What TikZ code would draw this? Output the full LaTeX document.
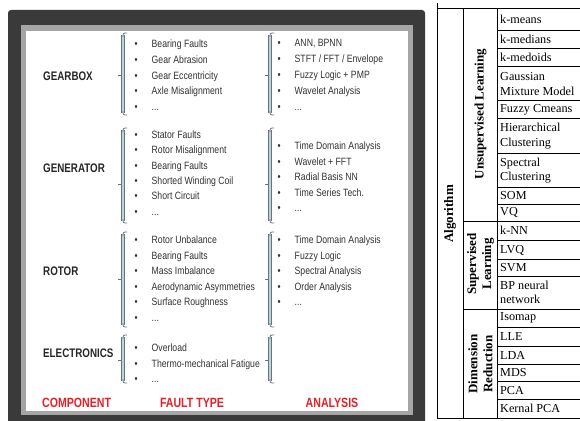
\documentclass[tikz,border=0pt]{standalone}
\usepackage{fontspec}
\setmainfont{Liberation Serif}
\newfontfamily\narrowsans[FakeStretch=0.82]{Liberation Sans}
\newfontfamily\narrowbold[FakeStretch=0.79]{Liberation Sans Bold}
\definecolor{framedark}{RGB}{58,58,58}
\definecolor{framegray}{RGB}{165,165,165}
\definecolor{brfill}{RGB}{182,214,218}
\definecolor{brline}{RGB}{105,115,120}
\definecolor{itemgray}{RGB}{50,50,50}
\definecolor{hdrred}{RGB}{232,30,40}
\newcommand\drawbrk[4]{%
  \draw[brline, line width=0.7pt] (#1-5,#4) -- (#1,#4);
  \draw[brline, line width=3.4pt] (#1,#2+2) -- (#1,#3-2);
  \draw[brfill, line width=2pt] (#1,#2+2) -- (#1,#3-2);
  \draw[brline, line width=0.8pt, rounded corners=2pt] (#1+4,#2) -- (#1,#2) -- (#1,#2+4);
  \draw[brline, line width=0.8pt, rounded corners=2pt] (#1+4,#3) -- (#1,#3) -- (#1,#3-4);
}
\tikzset{
  comp/.style={anchor=west, inner sep=0pt, text=black!85,
    font=\narrowbold\fontsize{12.4}{14}\selectfont},
  hdr/.style={inner sep=0pt, text=hdrred,
    font=\narrowbold\fontsize{13.4}{15}\selectfont},
  itm/.style={anchor=west, inner sep=0pt, text=itemgray, text height=7.6pt, text depth=0pt,
    font=\narrowsans\fontsize{10.6}{12}\selectfont},
  tcell/.style={anchor=west, inner sep=0pt, align=left,
    font=\fontsize{12.2}{14.5}\selectfont},
  tlab/.style={rotate=90, inner sep=0pt, align=center,
    font=\bfseries\fontsize{13}{15}\selectfont},
  tline/.style={line width=0.8pt, black}
}
\newcommand\bl[1]{\makebox[17pt][l]{\textbullet}#1}
\begin{document}
\begin{tikzpicture}[x=1pt,y=-1pt]
\useasboundingbox (0,0) rectangle (580,420);
% ---- left panel frame
\fill[framedark, rounded corners=3pt] (8,10) rectangle (425,424);
\fill[framegray] (21,25) rectangle (413,415);
\fill[white] (26,31) rectangle (408,411);
% ---- component labels
\node[comp] (gear) at (43,76) {GEARBOX};
\node[comp] (gen) at (43,168) {GENERATOR};
\node[comp] (rot) at (43,271) {ROTOR};
\node[comp] (elec) at (43,353) {ELECTRONICS};
% ---- headers
\node[hdr, anchor=west] (hc) at (42,403) {COMPONENT};
\node[hdr] (hf) at (192,403) {FAULT TYPE};
\node[hdr] (ha) at (332,403) {ANALYSIS};
% ---- brackets
\drawbrk{123}{33}{115}{75}
\drawbrk{270}{33}{115}{75}
\drawbrk{123}{128}{223}{184}
\drawbrk{270}{128}{223}{184}
\drawbrk{123}{232}{327}{279}
\drawbrk{270}{232}{327}{279}
\drawbrk{123}{335}{383}{360}
\drawbrk{270}{335}{383}{360}
% ---- gearbox
\node[itm] (g1) at (134.5,44) {\bl{Bearing Faults}};
\node[itm] (g2) at (134.5,60) {\bl{Gear Abrasion}};
\node[itm] (g3) at (134.5,76) {\bl{Gear Eccentricity}};
\node[itm] (g4) at (134.5,91) {\bl{Axle Misalignment}};
\node[itm] (g5) at (134.5,107) {\bl{...}};
\node[itm] (ga1) at (277.5,43) {\bl{ANN, BPNN}};
\node[itm] (ga2) at (277.5,59) {\bl{STFT / FFT / Envelope}};
\node[itm] (ga3) at (277.5,75) {\bl{Fuzzy Logic + PMP}};
\node[itm] (ga4) at (277.5,91) {\bl{Wavelet Analysis}};
\node[itm] (ga5) at (277.5,107) {\bl{...}};
% ---- generator
\node[itm] (n1) at (134.5,135) {\bl{Stator Faults}};
\node[itm] (n2) at (134.5,150) {\bl{Rotor Misalignment}};
\node[itm] (n3) at (134.5,165.5) {\bl{Bearing Faults}};
\node[itm] (n4) at (134.5,181) {\bl{Shorted Winding Coil}};
\node[itm] (n5) at (134.5,196) {\bl{Short Circuit}};
\node[itm] (n6) at (134.5,211.5) {\bl{...}};
\node[itm] (na1) at (277.5,146) {\bl{Time Domain Analysis}};
\node[itm] (na2) at (277.5,161.5) {\bl{Wavelet + FFT}};
\node[itm] (na3) at (277.5,177) {\bl{Radial Basis NN}};
\node[itm] (na4) at (277.5,192.5) {\bl{Time Series Tech.}};
\node[itm] (na5) at (277.5,208) {\bl{...}};
% ---- rotor
\node[itm] (r1) at (134.5,240) {\bl{Rotor Unbalance}};
\node[itm] (r2) at (134.5,255.5) {\bl{Bearing Faults}};
\node[itm] (r3) at (134.5,271) {\bl{Mass Imbalance}};
\node[itm] (r4) at (134.5,286.5) {\bl{Aerodynamic Asymmetries}};
\node[itm] (r5) at (134.5,302) {\bl{Surface Roughness}};
\node[itm] (r6) at (134.5,317.5) {\bl{...}};
\node[itm] (ra1) at (277.5,240) {\bl{Time Domain Analysis}};
\node[itm] (ra2) at (277.5,255.5) {\bl{Fuzzy Logic}};
\node[itm] (ra3) at (277.5,271) {\bl{Spectral Analysis}};
\node[itm] (ra4) at (277.5,286.5) {\bl{Order Analysis}};
\node[itm] (ra5) at (277.5,302) {\bl{...}};
% ---- electronics
\node[itm] (e1) at (134.5,348) {\bl{Overload}};
\node[itm] (e2) at (134.5,363.5) {\bl{Thermo-mechanical Fatigue}};
\node[itm] (e3) at (134.5,379) {\bl{...}};
% ---- table
\draw[tline] (437,3) -- (437,418);
\draw[tline] (463,8) -- (463,418);
\draw[tline] (497,8) -- (497,418);
\draw[tline] (437,8) -- (580,8);
\draw[tline] (437,418) -- (580,418);
\foreach \yy in {30,48,66,100,118,153,187,204,240,259,276,327,346,364,381,399}
  \draw[tline] (497,\yy) -- (580,\yy);
\draw[tline] (463,221) -- (580,221);
\draw[tline] (463,309) -- (580,309);
\node[tlab] (alg) at (450,214) {Algorithm};
\node[tlab] (uns) at (480.5,114) {Unsupervised Learning};
\node[tlab] (sup) at (480.5,264) {Supervised\\Learning};
\node[tlab] (dim) at (480.5,364) {Dimension\\Reduction};
\node[tcell] (t1) at (500,19.5) {k-means};
\node[tcell] (t2) at (500,39.5) {k-medians};
\node[tcell] (t3) at (500,57.5) {k-medoids};
\node[tcell] (t4) at (500,84) {Gaussian\\Mixture Model};
\node[tcell] (t5) at (500,109.5) {Fuzzy Cmeans};
\node[tcell] (t6) at (500,136) {Hierarchical\\Clustering};
\node[tcell] (t7) at (500,170.5) {Spectral\\Clustering};
\node[tcell] (t8) at (500,196) {SOM};
\node[tcell] (t9) at (500,212.5) {VQ};
\node[tcell] (t10) at (500,230.5) {k-NN};
\node[tcell] (t11) at (500,250) {LVQ};
\node[tcell] (t12) at (500,268) {SVM};
\node[tcell] (t13) at (500,292.5) {BP neural\\network};
\node[tcell] (t14) at (500,318) {Isomap};
\node[tcell] (t15) at (500,337) {LLE};
\node[tcell] (t16) at (500,355) {LDA};
\node[tcell] (t17) at (500,373) {MDS};
\node[tcell] (t18) at (500,390.5) {PCA};
\node[tcell] (t19) at (500,408.5) {Kernal PCA};
\end{tikzpicture}
\end{document}
